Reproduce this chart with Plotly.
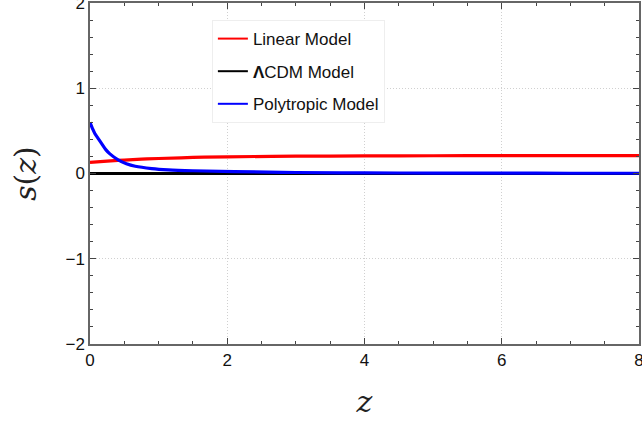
import plotly.graph_objects as go

# data
z_lin = [0, 0.25, 0.5, 0.75, 1.0, 1.5, 2.0, 3.0, 4.0, 5.0, 6.0, 7.0, 8.0]
s_lin = [0.13, 0.145, 0.158, 0.168, 0.176, 0.188, 0.196, 0.203, 0.206, 0.208, 0.209, 0.21, 0.21]

z_poly = [0, 0.035, 0.07, 0.12, 0.17, 0.23, 0.29, 0.41, 0.53, 0.66, 0.9, 1.14, 1.5, 2.1, 3.0, 4.0, 5.0, 6.0, 7.0, 8.0]
s_poly = [0.60, 0.53, 0.47, 0.41, 0.35, 0.28, 0.23, 0.16, 0.115, 0.085, 0.058, 0.043, 0.032, 0.022, 0.012, 0.007, 0.005, 0.004, 0.003, 0.003]

z_lcdm = [0, 8]
s_lcdm = [0, 0]

x_ticks = [0, 2, 4, 6, 8]
y_ticks = [-2, -1, 0, 1, 2]

names = ["Linear Model", "<b>Λ</b>CDM Model", "Polytropic Model"]
colors = ["#ff0000", "#000000", "#0000ff"]

fig = go.Figure()
fig.add_trace(go.Scatter(x=z_lin, y=s_lin, mode="lines", line=dict(color=colors[0], width=3.2, shape="spline"),
                         showlegend=False))
fig.add_trace(go.Scatter(x=z_lcdm, y=s_lcdm, mode="lines", line=dict(color=colors[1], width=3.2),
                         showlegend=False))
fig.add_trace(go.Scatter(x=z_poly, y=s_poly, mode="lines", line=dict(color=colors[2], width=3.2, shape="spline"),
                         showlegend=False))
# legend entries (thin lines as in the reference)
for i, (n, c) in enumerate(zip(names, colors)):
    fig.add_trace(go.Scatter(x=[None], y=[None], mode="lines", line=dict(color=c, width=2),
                             name=n, legendgroup=str(i), showlegend=True))

axis_common = dict(
    showline=True, linecolor="#666666", linewidth=1.5, mirror="allticks",
    ticks="inside", ticklen=6, tickcolor="#444444", tickwidth=1,
    showgrid=True, gridcolor="#d0d0d0", griddash="1px,2px", gridwidth=1,
    zeroline=False, automargin=False, ticklabeloverflow="allow",
    tickfont=dict(family="Liberation Sans, Arial, sans-serif", size=17, color="#111111"),
)

fig.update_xaxes(range=[0, 8], tickvals=x_ticks, **axis_common,
                 minor=dict(ticks="inside", ticklen=3, dtick=0.5, tickcolor="#444444", showgrid=False),
                 title=dict(text="<i>z</i>", font=dict(family="DejaVu Serif", size=30, color="#222222"), standoff=22))
fig.update_yaxes(range=[-2, 2], tickvals=y_ticks, **axis_common,
                 minor=dict(ticks="inside", ticklen=3, dtick=0.2, tickcolor="#444444", showgrid=False),
                 title=dict(text="<i>s</i>(<i>z</i>)", font=dict(family="DejaVu Serif", size=30, color="#222222"), standoff=20))

fig.update_layout(
    width=642, height=421,
    margin=dict(l=90, r=3, t=3, b=77),
    plot_bgcolor="white", paper_bgcolor="white",
    showlegend=True,
    legend=dict(x=0.222, y=0.95, xanchor="left", yanchor="top",
                bgcolor="white", bordercolor="#eeeeee", borderwidth=1,
                font=dict(family="Liberation Sans, Arial, sans-serif", size=17, color="#111111"),
                tracegroupgap=7.5, itemwidth=30),
)

fig.write_html("out.html", config={"displayModeBar": False},
               post_script="document.body.style.margin='0';document.body.style.overflow='hidden';")
